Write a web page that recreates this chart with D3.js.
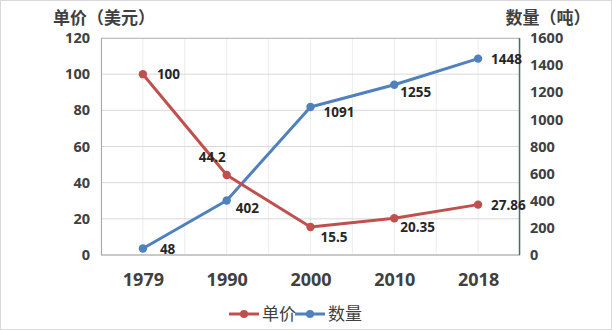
<!DOCTYPE html>
<html>
<head>
<meta charset="utf-8">
<script src="https://cdn.jsdelivr.net/npm/d3@7"></script>
<style>
  html, body { margin: 0; padding: 0; background: #fff; }
  svg { display: block; font-family: "Noto Sans CJK SC", "Noto Sans", sans-serif; }
</style>
</head>
<body>
<svg id="chart" width="612" height="330"></svg>
<script>
// Price per tonne (USD) and quantity (tonnes) by year
const years = ["1979", "1990", "2000", "2010", "2018"];
const priceValues = [100, 44.2, 15.5, 20.35, 27.86];
const quantityValues = [48, 402, 1091, 1255, 1448];
const priceTicks = [0, 20, 40, 60, 80, 100, 120];
const quantityTicks = [0, 200, 400, 600, 800, 1000, 1200, 1400, 1600];
const seriesNames = ["单价", "数量"];
const axisTitles = ["单价（美元）", "数量（吨）"];

const W = 612, H = 330;
const m = { left: 101, right: 92, top: 38, bottom: 75 };
const iw = W - m.left - m.right, ih = H - m.top - m.bottom;
const red = "#C0504D", blue = "#4F81BD", textCol = "#404040";

const svg = d3.select("#chart");
svg.append("rect").attr("x", 0.5).attr("y", 0.5).attr("width", W - 1).attr("height", H - 1)
  .attr("fill", "#fff").attr("stroke", "#d9d9d9");

const x = d3.scalePoint().domain(years).range([0, iw]).padding(0.5);
const yL = d3.scaleLinear().domain([0, 120]).range([ih, 0]);
const yR = d3.scaleLinear().domain([0, 1600]).range([ih, 0]);

const g = svg.append("g").attr("transform", `translate(${m.left},${m.top})`);

// vertical gridlines at category centres and between categories
const step = x.step();
const vlines = d3.range(0, years.length * 2 + 1).map(i => i * step / 2);
g.selectAll(".vgrid").data(vlines).join("line")
  .attr("x1", d => d).attr("x2", d => d).attr("y1", 0).attr("y2", ih)
  .attr("stroke", "#ececec").attr("stroke-width", 1);

// horizontal gridlines
g.selectAll(".hgrid").data(priceTicks).join("line")
  .attr("x1", 0).attr("x2", iw).attr("y1", d => yL(d)).attr("y2", d => yL(d))
  .attr("stroke", "#d9d9d9").attr("stroke-width", 1);

// plot frame
g.append("line").attr("x1", 0).attr("x2", iw).attr("y1", 0.5).attr("y2", 0.5).attr("stroke", "#bfbfbf");
g.append("line").attr("x1", 0).attr("x2", iw).attr("y1", ih).attr("y2", ih).attr("stroke", "#a6a6a6");
g.append("line").attr("x1", 0.5).attr("x2", 0.5).attr("y1", 0).attr("y2", ih).attr("stroke", "#a6a6a6");
g.append("line").attr("x1", iw - 0.5).attr("x2", iw - 0.5).attr("y1", 0).attr("y2", ih).attr("stroke", "#4e6e6a").attr("stroke-width", 1.5);

// left axis
const axL = g.append("g").call(d3.axisLeft(yL).tickValues(priceTicks).tickFormat(d3.format("d")).tickSize(0).tickPadding(11));
axL.select(".domain").remove();
axL.selectAll("text").attr("font-size", 14.5).attr("font-weight", "bold").attr("fill", textCol)
  .attr("font-family", "Noto Sans, sans-serif");

// right axis
const axR = g.append("g").attr("transform", `translate(${iw},0)`)
  .call(d3.axisRight(yR).tickValues(quantityTicks).tickFormat(d3.format("d")).tickSize(0).tickPadding(10));
axR.select(".domain").remove();
axR.selectAll("text").attr("font-size", 14.5).attr("font-weight", "bold").attr("fill", textCol)
  .attr("font-family", "Noto Sans, sans-serif");

// bottom axis
const axB = g.append("g").attr("transform", `translate(0,${ih})`)
  .call(d3.axisBottom(x).tickSize(0).tickPadding(18));
axB.select(".domain").remove();
axB.selectAll("text").attr("font-size", 18).attr("font-weight", "bold").attr("fill", textCol)
  .attr("font-family", "Noto Sans, sans-serif");

// axis titles
svg.append("text").attr("x", 104).attr("y", 24).attr("text-anchor", "middle")
  .attr("font-size", 17).attr("font-weight", "bold").attr("fill", textCol).text(axisTitles[0]);
svg.append("text").attr("x", 548).attr("y", 24).attr("text-anchor", "middle")
  .attr("font-size", 17).attr("font-weight", "bold").attr("fill", textCol).text(axisTitles[1]);

// series
const priceData = years.map((yr, i) => ({ yr, v: priceValues[i] }));
const qtyData = years.map((yr, i) => ({ yr, v: quantityValues[i] }));

function drawSeries(data, yScale, color) {
  const line = d3.line().x(d => x(d.yr)).y(d => yScale(d.v));
  g.append("path").datum(data).attr("d", line).attr("fill", "none")
    .attr("stroke", color).attr("stroke-width", 3).attr("stroke-linejoin", "round");
  g.selectAll(null).data(data).join("circle")
    .attr("cx", d => x(d.yr)).attr("cy", d => yScale(d.v)).attr("r", 4.2)
    .attr("fill", color);
}
drawSeries(qtyData, yR, blue);
drawSeries(priceData, yL, red);

// data labels (offsets relative to each point)
const priceOffsets = [[14, 5], [-28, -13], [10, 15], [6, 14], [13, 5]];
const qtyOffsets = [[17, 6], [9, 13], [13, 10], [6, 12], [13, 5]];
function drawLabels(data, yScale, offsets) {
  g.selectAll(null).data(data).join("text")
    .attr("x", (d, i) => x(d.yr) + offsets[i][0])
    .attr("y", (d, i) => yScale(d.v) + offsets[i][1])
    .attr("font-size", 13.5).attr("font-weight", "bold").attr("fill", "#262626")
    .attr("font-family", "Noto Sans, sans-serif")
    .text(d => d.v);
}
drawLabels(priceData, yL, priceOffsets);
drawLabels(qtyData, yR, qtyOffsets);

// legend
const legend = svg.append("g").attr("transform", "translate(229,314)");
[[red, seriesNames[0], 0], [blue, seriesNames[1], 66]].forEach(([c, name, dx]) => {
  const lg = legend.append("g").attr("transform", `translate(${dx},0)`);
  lg.append("line").attr("x1", 0).attr("x2", 30).attr("y1", 0).attr("y2", 0)
    .attr("stroke", c).attr("stroke-width", 3);
  lg.append("circle").attr("cx", 15).attr("cy", 0).attr("r", 4).attr("fill", c);
  lg.append("text").attr("x", 33).attr("y", 6).attr("font-size", 17).attr("fill", textCol).text(name);
});
</script>
</body>
</html>
